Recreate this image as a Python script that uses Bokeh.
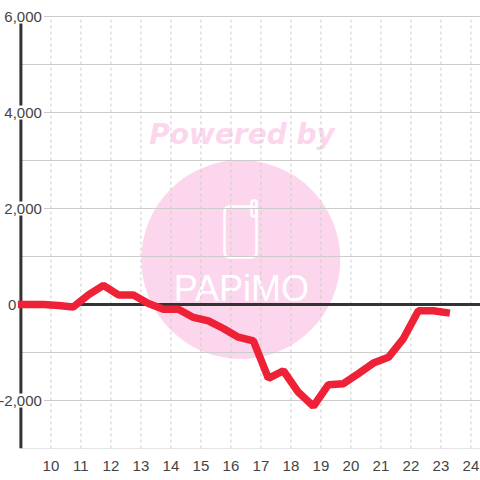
from bokeh.plotting import figure
from bokeh.embed import file_html
from bokeh.resources import INLINE
from bokeh.models import FixedTicker, BoxAnnotation, Range1d
from bokeh.core.properties import value

hours = [8.9, 9.75, 10.25, 10.75, 11.25, 11.75, 12.25, 12.75, 13.25, 13.75, 14.25, 14.75, 15.25, 15.75,
         16.25, 16.75, 17.25, 17.75, 18.25, 18.75, 19.25, 19.75, 20.25, 20.75, 21.25, 21.75, 22.25, 22.75, 23.3]
vals = [0, 0, -20, -50, 200, 400, 200, 200, 20, -100, -100, -270, -340, -500,
        -680, -760, -1540, -1380, -1830, -2120, -1670, -1650, -1440, -1220, -1100, -710, -130, -130, -180]
x_ticks = list(range(10, 25))
y_labels = [-2000, 2000, 4000, 6000]
y_grid = [-3000, -2000, -1000, 0, 1000, 2000, 3000, 4000, 5000, 6000]
x_min, x_max, y_min, y_max = 9.0, 24.32, -3000, 6000

PINK = "#fcd6ed"
INK = "#333333"
GRID = "#cccccc"
TEXT = "#444444"
RED = "#ee2136"

p = figure(width=480, height=480, output_backend="svg", toolbar_location=None,
           x_range=Range1d(8.32, 24.32), y_range=Range1d(-3000, 6000 + 16 / 0.048),
           y_axis_location=None,
           min_border_left=0, min_border_right=0, min_border_top=0, min_border_bottom=32,
           background_fill_color="white", border_fill_color="white")
p.outline_line_color = None
p.grid.visible = False

p.xaxis.ticker = FixedTicker(ticks=x_ticks)
p.xaxis.axis_line_color = None
p.xaxis.major_tick_line_color = None
p.xaxis.minor_tick_line_color = None
p.xaxis.major_label_standoff = 6
p.xaxis.major_label_text_font = "Liberation Sans"
p.xaxis.major_label_text_font_size = "15px"
p.xaxis.major_label_text_color = TEXT

# watermark, under the grid
p.scatter([16.33], [937], size=199, marker="circle", fill_color=PINK, line_color=None, level="image")
p.text([16.37], [3550], text=["Powered by"], text_font=value("DejaVu Sans"), text_font_style="bold italic",
       text_font_size="28px", text_color=PINK, text_align="center", text_baseline="middle", level="image")
p.text([16.35], [0], text=["PAPiMO"], text_font=value("Liberation Sans"), text_font_size="36px",
       text_color="white", text_align="center", text_baseline="bottom", y_offset=4, level="image")
for box in [dict(left=224, right=256, top=242, bottom=191, border_radius=5),
            dict(left=251, right=256, top=248, bottom=232, border_radius=2)]:
    p.add_layout(BoxAnnotation(left_units="screen", right_units="screen", top_units="screen", bottom_units="screen",
                               fill_color=None, line_color="white", line_alpha=1, line_width=2.5, level="image", **box))

# grid lines
p.segment(x0=x_ticks, x1=x_ticks, y0=[y_min] * len(x_ticks), y1=[y_max] * len(x_ticks),
          line_color=GRID, line_width=1, line_dash="3 3", level="underlay")
p.segment(x0=[x_min] * len(y_grid), x1=[x_max] * len(y_grid), y0=y_grid, y1=y_grid,
          line_color=GRID, line_width=1, level="underlay")

# axis and zero line
p.segment(x0=[x_min], x1=[x_min], y0=[y_min], y1=[y_max], line_color=INK, line_width=3)
p.segment(x0=[x_min], x1=[x_max], y0=[0], y1=[0], line_color=INK, line_width=3)

# y labels sit on the axis with a white plate; the zero label sits left of it
p.text([x_min] * len(y_labels), y_labels, text=[f"{t:,}" for t in y_labels], x_offset=23,
       text_align="right", text_baseline="middle", text_font=value("Liberation Sans"), text_font_size="15px",
       text_color=TEXT, background_fill_color="white", padding=2, level="overlay")
p.text([x_min], [0], text=["0"], x_offset=-4.5,
       text_align="right", text_baseline="middle", text_font=value("Liberation Sans"), text_font_size="15px",
       text_color=TEXT, level="overlay")

p.line(hours, vals, line_color=RED, line_width=7.5, line_join="bevel", line_cap="butt")

open("out.html", "w").write(file_html(p, INLINE))
